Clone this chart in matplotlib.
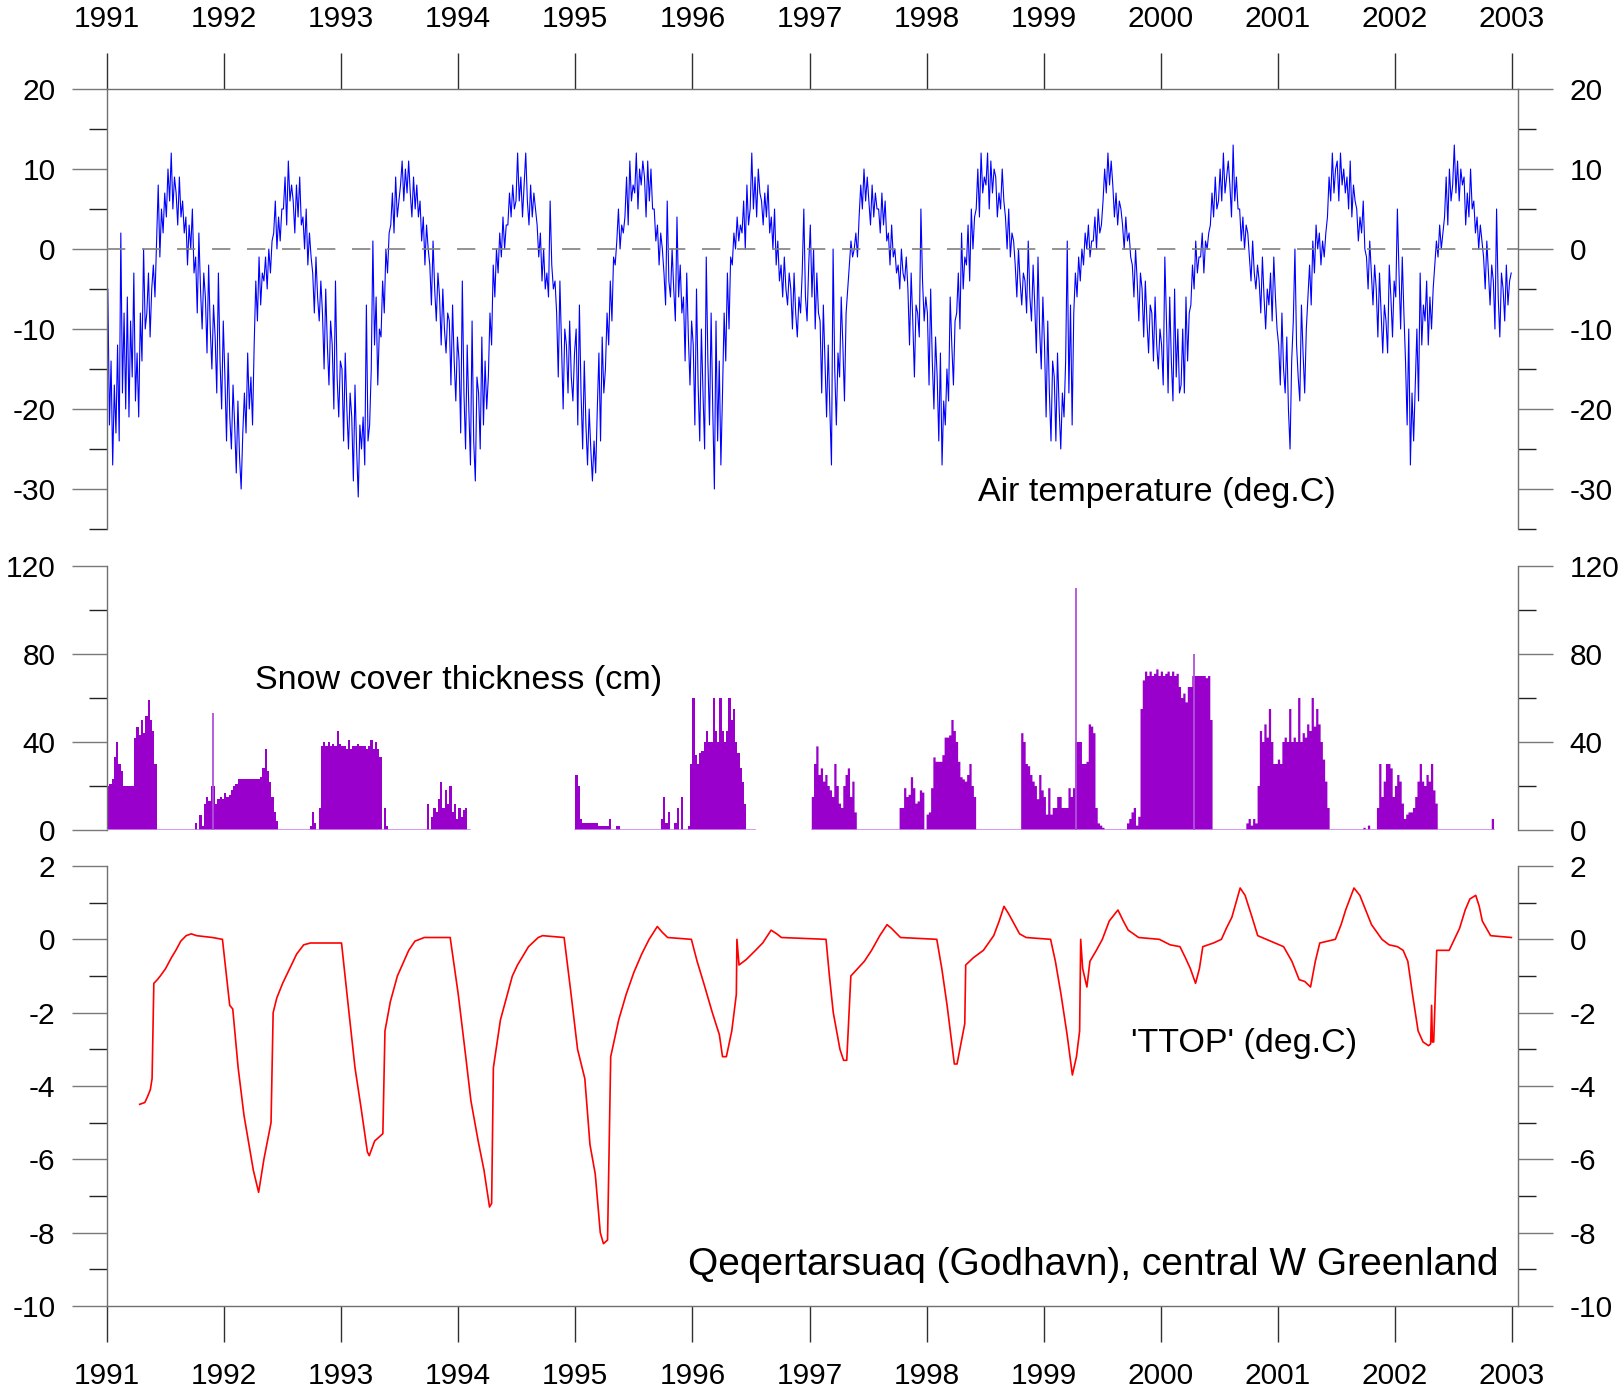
import numpy as np
import matplotlib
matplotlib.use('Agg')
import matplotlib.pyplot as plt
from matplotlib.ticker import MultipleLocator

plt.rcParams['font.family'] = ['Liberation Sans', 'DejaVu Sans']
plt.rcParams['axes.unicode_minus'] = False

YEARS = list(range(1991, 2004))

# ---------------- Air temperature (about 6 readings per month) ----------------
T1991 = [-5,-22,-14,-27,-17,-23, -12,-24,2,-18,-8,-20, -6,-21,-9,-16,-3,-19, -13,-21,-8,-14,0,-10,
         -8,-3,-11,-5,-2,-6, 1,8,-1,5,2,7, 4,10,6,12,5,9, 7,3,9,4,6,2,
         4,-2,3,0,5,-3, -1,-8,2,-5,-10,-3, -6,-13,-2,-10,-15,-7, -11,-18,-3,-14,-20,-9]
T1992 = [-16,-24,-13,-21,-25,-17, -22,-28,-19,-26,-30,-23, -18,-23,-13,-20,-16,-22, -12,-4,-9,-1,-7,-3,
         -4,-1,-5,0,-3,1, 2,6,0,4,1,5, 5,9,3,11,6,8, 6,2,8,4,9,3,
         4,0,5,-2,2,-1, -3,-8,-1,-6,-9,-4, -8,-15,-5,-12,-17,-9, -12,-20,-4,-16,-21,-14]
T1993 = [-15,-24,-13,-20,-25,-18, -21,-29,-17,-25,-31,-22, -25,-21,-27,-7,-24,-22, -15,1,-12,-6,-17,-10,
         -11,-4,-8,0,-3,2, 3,7,2,9,4,6, 8,11,6,10,7,11, 7,4,9,5,8,4,
         6,1,4,-2,3,0, -2,-7,1,-5,-9,-3, -6,-12,-5,-10,-13,-8, -9,-17,-7,-14,-19,-11]
T1994 = [-14,-23,-4,-18,-25,-12, -20,-27,-9,-24,-29,-16, -18,-25,-11,-22,-14,-20, -16,-8,-12,-2,-6,0,
         -3,2,-1,4,0,3, 3,7,4,8,5,6, 12,6,9,4,8,12, 6,3,8,4,7,5,
         3,-1,2,-4,0,-5, -3,-6,6,-2,-5,-4, -8,-16,-4,-12,-20,-10, -12,-18,-9,-16,-19,-13]
T1995 = [-10,-22,-7,-18,-25,-14, -22,-27,-20,-25,-29,-24, -28,-20,-13,-24,-11,-18, -15,-8,-12,-4,-9,-1,
         -2,1,5,0,3,2, 4,9,3,11,6,8, 7,12,5,10,8,11, 9,4,11,6,10,5,
         5,1,3,-2,2,0, -3,-7,6,-4,-6,0, -5,-9,4,-6,-2,-8, -6,-14,-3,-11,-17,-9]
T1996 = [-12,-22,-5,-17,-24,-10, -18,-25,-1,-14,-22,-8, -20,-30,-9,-24,-14,-27, -18,-8,-14,-3,-10,-1,
         -2,2,0,4,1,3, 2,6,0,8,3,5, 12,5,9,4,10,7, 6,3,7,4,8,2,
         4,0,5,-2,1,-4, -2,-6,-1,-5,-7,-3, -5,-10,-3,-8,-11,-6, -8,-3,5,-6,-9,-2]
T1997 = [3,-6,0,-10,-3,-8, -9,-18,-7,-14,-21,-12, -20,-27,0,-15,-22,-13, -16,-6,-12,-19,-8,-5,
         -2,1,-1,0,2,-1, 4,8,5,10,6,9, 6,3,8,4,7,5, 5,2,7,3,6,1,
         2,-2,3,-1,0,-3, -2,-5,0,-3,-4,-1, -5,-12,-3,-9,-16,-7, -8,-11,5,-4,-9,-6]
T1998 = [-8,-17,-5,-14,-20,-11, -16,-24,-13,-27,-19,-22, -15,-19,-6,-12,-17,-9, -8,-3,-10,2,-5,-1,
         -2,3,-4,5,0,4, 5,10,4,12,7,9, 8,12,5,11,7,10, 9,4,7,5,10,6,
         4,0,5,-1,2,1, -2,-6,0,-4,-7,-3, -4,-8,1,-6,-9,-2, -7,-13,-1,-10,-15,-6]
T1999 = [-12,-21,-9,-18,-24,-14, -16,-24,-13,-20,-25,-18, -21,-14,1,-18,-7,-22, -8,-3,-6,-1,-4,0,
         -2,2,0,3,-1,1, 1,4,0,5,2,3, 6,10,7,12,8,11, 8,4,7,3,6,5,
         3,0,4,1,2,-1, -2,-6,0,-4,-9,-3, -5,-11,-4,-9,-13,-7, -8,-14,-6,-12,-15,-10]
T2000 = [-12,-17,-1,-9,-18,-6, -14,-19,-5,-16,-10,-18, -17,-10,-18,-6,-14,-8, -7,-2,-5,1,-3,-1,
         -1,2,-3,1,0,2, 3,7,4,9,5,6, 10,6,12,7,9,11, 8,4,13,6,9,5,
         5,1,4,0,3,2, -1,-4,1,-3,-5,-2, -4,-8,-1,-6,-10,-5, -7,-3,-9,-1,-6,-10]
T2001 = [-12,-17,-8,-15,-18,-11, -20,-25,-14,-9,0,-12, -16,-19,-7,-13,-18,-10, -6,-2,-7,1,-3,3,
         0,2,-2,1,-1,2, 4,9,6,12,7,10, 11,6,12,8,10,7, 9,5,11,4,8,6,
         5,1,4,2,6,0, -1,-5,1,-3,-7,-2, -5,-11,-3,-8,-13,-7, -9,-13,-2,-6,-11,-4]
T2002 = [-6,5,-3,-10,-1,-8, -14,-22,-10,-27,-18,-24, -17,-10,-19,-3,-12,-7, -9,-4,-12,-6,-10,-5,
         -2,1,-1,3,0,2, 4,9,3,10,6,8, 13,7,11,6,10,8, 9,3,7,4,10,5,
         6,2,4,0,3,1, -1,-5,1,-3,-7,-2, -4,-10,5,-6,-11,-3, -5,-9,-2,-7,-4,-3]
TEMP_BY_YEAR = [T1991, T1992, T1993, T1994, T1995, T1996,
                T1997, T1998, T1999, T2000, T2001, T2002]

# ---------------- Snow cover (weekly readings per winter, cm) ----------------
SNOW_START = [1991.0, 1991.752, 1992.734, 1993.74, 1995.0, 1995.726, 1997.01,
              1997.773, 1998.784, 1999.72, 2000.74, 2001.73, 2001.85, 2002.827]
SNOW_SEASONS = [
    [20,21,23,33,40,30,27,20,20,20,20,20,42,47,43,50,44,52,59,50,45,30],
    [3,0,7,2,12,15,13,20,20,12,14,15,14,17,15,16,18,20,21,23,23,23,23,23,23,23,23,23,23,24,28,37,27,22,15,8,4],
    [2,8,3,0,10,38,40,38,40,38,39,38,45,39,38,38,37,41,37,38,38,39,38,38,38,37,38,41,37,40,37,33,0,10,2],
    [12,0,6,10,8,14,22,10,18,12,20,8,12,5,10,6,9,10,0],
    [25,20,5,3,3,3,3,3,3,3,2,2,2,2,2,5,0,0,2,2],
    [5,15,3,8,0,0,3,10,0,15,0,0,2,30,60,34,30,35,36,40,45,40,40,60,45,40,60,45,40,45,60,50,55,40,35,28,22,12,0],
    [15,30,38,25,28,22,25,20,18,15,30,20,12,10,20,25,28,15,22,8],
    [10,10,19,15,16,24,19,12,13,18,17,0,7,8,19,33,31,31,31,34,42,42,43,50,45,40,31,24,23,22,25,30,20,15],
    [0,44,40,30,29,25,22,20,14,25,18,15,7,19,7,10,10,15,15,10,10,10,19,15,19,40,40,40,30,30,31,48,47,44,10,3,2,1],
    [3,5,8,10,2,6,55,68,72,70,72,70,71,73,70,72,70,71,72,70,72,70,71,65,60,62,58,65,65,70,70,70,70,70,70,69,70,50],
    [3,5,2,5,3,20,45,40,48,42,55,40,30,30,32,30,40,42,40,55,40,42,40,60,40,44,42,48,45,60,47,55,48,40,32,22,10],
    [1,0,2],
    [10,30,15,22,30,30,28,15,20,25,22,12,5,7,8,8,10,15,22,30,22,20,25,22,30,18,12],
    [5],
]
SNOW_GAPS = [(1994.10, 1995.0), (1996.54, 1997.01)]
SNOW_END = 2002.85
SNOW_SPIKE_YEAR = [1991.903, 1999.274, 2000.28]
SNOW_SPIKE_VAL = [53, 110, 80]

# ---------------- TTOP ----------------
TTOP_YEAR = [1991.279, 1991.323, 1991.345, 1991.37, 1991.385, 1991.40, 1991.43, 1991.455, 1991.50, 1991.55,
             1991.588, 1991.63, 1991.676, 1991.72, 1991.765, 1991.90, 1991.986, 1992.02, 1992.048, 1992.074,
             1992.12, 1992.17, 1992.207, 1992.25, 1992.295, 1992.34, 1992.401, 1992.419, 1992.45, 1992.50,
             1992.56, 1992.62, 1992.68, 1992.737, 1993.003, 1993.06, 1993.118, 1993.17, 1993.224, 1993.24,
             1993.286, 1993.356, 1993.374, 1993.42, 1993.48, 1993.577, 1993.63, 1993.71, 1993.931, 1994.0,
             1994.064, 1994.108, 1994.17, 1994.22, 1994.267, 1994.285, 1994.30, 1994.36, 1994.42, 1994.462,
             1994.506, 1994.6, 1994.683, 1994.72, 1994.904, 1994.96, 1995.019, 1995.05, 1995.081, 1995.125,
             1995.17, 1995.213, 1995.24, 1995.275, 1995.302, 1995.37, 1995.434, 1995.50, 1995.567, 1995.63,
             1995.70, 1995.74, 1995.788, 1995.991, 1996.04, 1996.097, 1996.17, 1996.230, 1996.257, 1996.29,
             1996.336, 1996.375, 1996.380, 1996.398, 1996.46, 1996.539, 1996.60, 1996.672, 1996.72, 1996.760,
             1997.141, 1997.17, 1997.203, 1997.26, 1997.291, 1997.318, 1997.353, 1997.41, 1997.468, 1997.53,
             1997.600, 1997.662, 1997.70, 1997.777, 1998.087, 1998.13, 1998.175, 1998.237, 1998.26, 1998.308,
             1998.326, 1998.334, 1998.40, 1998.485, 1998.573, 1998.62, 1998.661, 1998.70, 1998.794, 1998.85,
             1999.059, 1999.10, 1999.148, 1999.20, 1999.245, 1999.28, 1999.307, 1999.316, 1999.333, 1999.369,
             1999.395, 1999.45, 1999.501, 1999.56, 1999.634, 1999.68, 1999.722, 1999.811, 1999.988, 2000.08,
             2000.164, 2000.21, 2000.253, 2000.297, 2000.33, 2000.359, 2000.45, 2000.518, 2000.56, 2000.607,
             2000.678, 2000.72, 2000.78, 2000.828, 2001.049, 2001.12, 2001.182, 2001.23, 2001.279, 2001.32,
             2001.358, 2001.491, 2001.54, 2001.579, 2001.650, 2001.70, 2001.75, 2001.800, 2001.889, 2001.95,
             2002.021, 2002.07, 2002.110, 2002.15, 2002.198, 2002.24, 2002.287, 2002.305, 2002.313, 2002.32,
             2002.331, 2002.357, 2002.463, 2002.552, 2002.60, 2002.640, 2002.69, 2002.72, 2002.746, 2002.817,
             2002.994]
TTOP_VAL = [-4.5, -4.45, -4.3, -4.1, -3.8, -1.2, -1.1, -1.0, -0.8, -0.5,
            -0.3, -0.05, 0.1, 0.15, 0.1, 0.05, 0.0, -1.0, -1.8, -1.9,
            -3.5, -4.8, -5.5, -6.3, -6.9, -6.0, -5.0, -2.0, -1.6, -1.2,
            -0.8, -0.4, -0.15, -0.1, -0.1, -1.8, -3.5, -4.6, -5.8, -5.9,
            -5.5, -5.3, -2.5, -1.7, -1.0, -0.3, -0.05, 0.05, 0.05, -1.5,
            -3.2, -4.4, -5.5, -6.3, -7.3, -7.2, -3.5, -2.2, -1.5, -1.0,
            -0.7, -0.2, 0.05, 0.1, 0.05, -1.4, -3.0, -3.4, -3.8, -5.6,
            -6.4, -8.0, -8.3, -8.2, -3.2, -2.2, -1.5, -0.9, -0.4, 0.0,
            0.35, 0.2, 0.05, 0.0, -0.6, -1.2, -2.0, -2.6, -3.2, -3.2,
            -2.5, -1.5, 0.0, -0.7, -0.55, -0.3, -0.1, 0.25, 0.15, 0.05,
            0.0, -1.0, -2.0, -3.0, -3.3, -3.3, -1.0, -0.8, -0.6, -0.3,
            0.1, 0.4, 0.3, 0.05, 0.0, -0.8, -1.8, -3.4, -3.4, -2.6,
            -2.3, -0.7, -0.5, -0.3, 0.1, 0.5, 0.9, 0.7, 0.15, 0.05,
            0.0, -0.6, -1.5, -2.6, -3.7, -3.2, -2.5, 0.0, -0.8, -1.3,
            -0.6, -0.3, 0.0, 0.5, 0.8, 0.5, 0.25, 0.05, 0.0, -0.15,
            -0.2, -0.5, -0.8, -1.2, -0.8, -0.2, -0.1, 0.0, 0.3, 0.6,
            1.4, 1.2, 0.6, 0.1, -0.2, -0.6, -1.1, -1.15, -1.3, -0.6,
            -0.1, 0.0, 0.4, 0.8, 1.4, 1.2, 0.8, 0.4, 0.0, -0.15,
            -0.2, -0.3, -0.6, -1.5, -2.5, -2.8, -2.9, -2.85, -1.8, -2.8,
            -2.8, -0.3, -0.3, 0.3, 0.8, 1.1, 1.2, 0.9, 0.5, 0.1,
            0.05]

# ---------------- build series ----------------
temp_t, temp_v = [], []
for yr, vals in zip(YEARS[:-1], TEMP_BY_YEAR):
    n = len(vals)
    temp_t.extend(yr + (np.arange(n) + 0.5) / n)
    temp_v.extend(vals)
temp_t = np.array(temp_t); temp_v = np.array(temp_v, dtype=float)

n_snow = int(round((SNOW_END - 1991) * 52)) + 1
snow_t = 1991 + np.arange(n_snow) / 52.0
snow_v = np.zeros(n_snow)
for start, vals in zip(SNOW_START, SNOW_SEASONS):
    i0 = int(round((start - 1991) * 52))
    for k, v in enumerate(vals):
        if i0 + k < n_snow:
            snow_v[i0 + k] = v
for a, b in SNOW_GAPS:
    snow_v[(snow_t >= a) & (snow_t < b)] = np.nan
snow_base = np.where(np.isnan(snow_v), np.nan, 0.0)

# ---------------- figure ----------------
W_PX, H_PX = 1623, 1397
fig = plt.figure(figsize=(W_PX / 100, H_PX / 100), dpi=100)
LEFT, RIGHT = 107, 1518


def rect(top, bot):
    return [LEFT / W_PX, 1 - bot / H_PX, (RIGHT - LEFT) / W_PX, (bot - top) / H_PX]


ax1 = fig.add_axes(rect(89, 529))
ax2 = fig.add_axes(rect(566, 830))
ax3 = fig.add_axes(rect(866, 1306))

XMIN, XMAX = 1991, 2003.051
SPINE_C = '#707070'
MAJ_C = '#7a7a7a'
MIN_C = '#222222'
TICK_FS = 21.5

for ax in (ax1, ax2, ax3):
    ax.set_xlim(XMIN, XMAX)
    for s in ax.spines.values():
        s.set_color(SPINE_C)
        s.set_linewidth(1.0)
    ax.tick_params(axis='y', which='both', direction='out', left=True, right=True,
                   labelleft=True, labelright=True, labelsize=TICK_FS)
    ax.tick_params(axis='y', which='major', length=25, width=1.0, color=MAJ_C, pad=12)
    ax.tick_params(axis='y', which='minor', length=13, width=1.0, color=MIN_C)
    ax.set_facecolor('white')

# top panel
ax1.plot(temp_t, temp_v, color='#0000ff', lw=0.8, zorder=2)
ax1.axhline(0, color='#808080', lw=1.2, ls=(0, (11, 10)), zorder=3)
ax1.set_ylim(-35, 20)
ax1.yaxis.set_major_locator(MultipleLocator(10))
ax1.yaxis.set_minor_locator(MultipleLocator(5))
ax1.spines['bottom'].set_visible(False)
ax1.xaxis.set_ticks_position('top')
ax1.set_xticks(YEARS)
ax1.set_xticklabels([str(y) for y in YEARS])
ax1.tick_params(axis='x', which='major', top=True, bottom=False, labeltop=True, labelbottom=False,
                direction='out', length=26, width=1.0, color='#303030', pad=14, labelsize=TICK_FS)
ax1.text(1999.97, -30.4, 'Air temperature (deg.C)', fontsize=24.5, ha='center', va='center')

# middle panel
ax2.fill_between(snow_t, 0, snow_v, step='post', color='#9900cc', lw=0, zorder=2)
ax2.plot(snow_t, snow_base, color='#cc88ee', lw=1.2, zorder=3)
ax2.vlines(SNOW_SPIKE_YEAR, 0, SNOW_SPIKE_VAL, color='#b050dd', lw=1.3, zorder=3)
ax2.set_ylim(0, 120)
ax2.yaxis.set_major_locator(MultipleLocator(40))
ax2.yaxis.set_minor_locator(MultipleLocator(20))
ax2.spines['top'].set_visible(False)
ax2.spines['bottom'].set_visible(False)
ax2.tick_params(axis='x', which='both', top=False, bottom=False, labeltop=False, labelbottom=False)
ax2.text(1994.0, 68, 'Snow cover thickness (cm)', fontsize=24.5, ha='center', va='center')

# bottom panel
ax3.plot(TTOP_YEAR, TTOP_VAL, color='#ff0000', lw=1.2, zorder=2)
ax3.set_ylim(-10, 2)
ax3.yaxis.set_major_locator(MultipleLocator(2))
ax3.yaxis.set_minor_locator(MultipleLocator(1))
ax3.spines['top'].set_visible(False)
ax3.set_xticks(YEARS)
ax3.set_xticklabels([str(y) for y in YEARS])
ax3.tick_params(axis='x', which='major', top=False, bottom=True, labeltop=False, labelbottom=True,
                direction='out', length=26, width=1.0, color='#303030', pad=14, labelsize=TICK_FS)
ax3.text(2000.71, -2.83, "'TTOP' (deg.C)", fontsize=24.5, ha='center', va='center')
ax3.text(1999.42, -8.88, 'Qeqertarsuaq (Godhavn), central W Greenland', fontsize=28,
         ha='center', va='center')

fig.savefig('out.png', dpi=100, facecolor='white')
